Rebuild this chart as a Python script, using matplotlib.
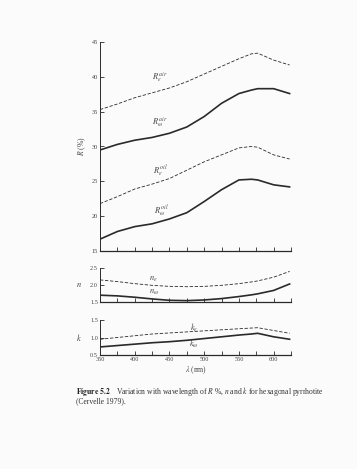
import matplotlib
matplotlib.use("Agg")
import matplotlib.pyplot as plt
import numpy as np

# wavelength (nm)
wl = [350, 375, 400, 425, 450, 475, 500, 525, 550, 568, 577, 600, 623]

# reflectance (%) in air and oil
R_e_air = [35.3, 36.1, 37.0, 37.7, 38.4, 39.3, 40.4, 41.5, 42.6, 43.3, 43.4, 42.4, 41.7]
R_o_air = [29.5, 30.3, 30.9, 31.3, 31.9, 32.8, 34.3, 36.2, 37.6, 38.1, 38.3, 38.3, 37.6]
R_e_oil = [21.8, 22.8, 23.9, 24.6, 25.4, 26.6, 27.8, 28.8, 29.8, 30.0, 29.9, 28.8, 28.2]
R_o_oil = [16.7, 17.8, 18.5, 18.9, 19.6, 20.5, 22.1, 23.8, 25.2, 25.3, 25.2, 24.5, 24.2]

# refractive indices
n_e = [2.15, 2.10, 2.04, 1.99, 1.96, 1.95, 1.96, 1.99, 2.04, 2.09, 2.12, 2.23, 2.40]
n_o = [1.70, 1.68, 1.64, 1.59, 1.55, 1.54, 1.56, 1.60, 1.66, 1.71, 1.74, 1.84, 2.03]

# absorption coefficients
k_e = [0.95, 1.00, 1.05, 1.10, 1.13, 1.16, 1.19, 1.22, 1.25, 1.27, 1.28, 1.20, 1.12]
k_o = [0.73, 0.77, 0.81, 0.85, 0.88, 0.92, 0.97, 1.02, 1.07, 1.10, 1.12, 1.02, 0.95]

x_ticks = np.arange(350, 626, 25)
x_labels = ['350', '', '400', '', '450', '', '500', '', '550', '', '600', '']

ink = '#2a2a2a'
txt = '#444444'
plt.rcParams['font.family'] = ['Liberation Serif', 'DejaVu Serif']
plt.rcParams['mathtext.fontset'] = 'stix'

fig = plt.figure(figsize=(3.57, 4.69), dpi=100)
fig.patch.set_facecolor('#fbfbfb')

W, H = 357.0, 469.0
def add_panel(top, bottom):
    return fig.add_axes([100 / W, 1 - bottom / H, 191 / W, (bottom - top) / H])

ax1 = add_panel(42, 251)
ax2 = add_panel(268, 302)
ax3 = add_panel(320, 355)

dash = dict(color=ink, lw=0.6, dashes=(4, 2))
solid = dict(color=ink, lw=1.2)

ax1.plot(wl, R_e_air, **dash)
ax1.plot(wl, R_o_air, **solid)
ax1.plot(wl, R_e_oil, **dash)
ax1.plot(wl, R_o_oil, **solid)
ax1.set_ylim(15, 45)
ax1.set_yticks([15, 20, 25, 30, 35, 40, 45])
ax1.set_ylabel('$R$ (%)', fontsize=5.5, color=txt, labelpad=3)
ax1.text(448, 39.6, r'$R_\varepsilon^{\,air}$', fontsize=6, color=txt, ha='right')
ax1.text(448, 33.1, r'$R_\omega^{\,air}$', fontsize=6, color=txt, ha='right')
ax1.text(448, 26.1, r'$R_\varepsilon^{\,oil}$', fontsize=6, color=txt, ha='right')
ax1.text(450, 20.3, r'$R_\omega^{\,oil}$', fontsize=6, color=txt, ha='right')

ax2.plot(wl, n_e, **dash)
ax2.plot(wl, n_o, **solid)
ax2.set_ylim(1.5, 2.5)
ax2.set_yticks([1.5, 2.0, 2.5])
ax2.set_yticklabels(['1.5', '2.0', '2.5'])
ax2.set_ylabel('$n$', fontsize=6, color=txt, rotation=0, labelpad=8, va='center')
ax2.text(420, 2.12, r'$n_\varepsilon$', fontsize=6, color=txt)
ax2.text(420, 1.74, r'$n_\omega$', fontsize=6, color=txt)

ax3.plot(wl, k_e, **dash)
ax3.plot(wl, k_o, **solid)
ax3.set_ylim(0.5, 1.5)
ax3.set_yticks([0.5, 1.0, 1.5])
ax3.set_yticklabels(['0.5', '1.0', '1.5'])
ax3.set_ylabel('$k$', fontsize=6, color=txt, rotation=0, labelpad=8, va='center')
ax3.text(480, 1.19, r'$k_\varepsilon$', fontsize=6, color=txt)
ax3.text(478, 0.74, r'$k_\omega$', fontsize=6, color=txt)
ax3.set_xlabel(r'$\lambda$ (nm)', fontsize=5.5, color=txt, labelpad=2)

for ax in (ax1, ax2, ax3):
    ax.set_facecolor('none')
    ax.set_xlim(350, 625)
    ax.set_xticks(x_ticks)
    ax.spines['top'].set_visible(False)
    ax.spines['right'].set_visible(False)
    ax.spines['left'].set_color(ink)
    ax.spines['bottom'].set_color(ink)
    ax.spines['left'].set_linewidth(0.7)
    ax.spines['bottom'].set_linewidth(0.9)
    ax.tick_params(direction='in', length=3, width=0.6, colors=ink,
                   labelsize=4.5, labelcolor=txt, pad=1.5)

ax1.set_xticklabels([])
ax2.set_xticklabels([])
ax3.set_xticklabels(x_labels)

fig.text(76 / W, 1 - 392 / H, r'$\mathbf{Figure\ 5.2}$', fontsize=5.5, color='#222222', va='center')
fig.text(116 / W, 1 - 392 / H, 'Variation with wavelength of $R$ %, $n$ and $k$ for hexagonal pyrrhotite',
         fontsize=5.5, color='#333333', va='center')
fig.text(76 / W, 1 - 401 / H, '(Cervelle 1979).', fontsize=5.5, color='#333333', va='center')

fig.savefig('out.png', dpi=100, facecolor=fig.get_facecolor())
